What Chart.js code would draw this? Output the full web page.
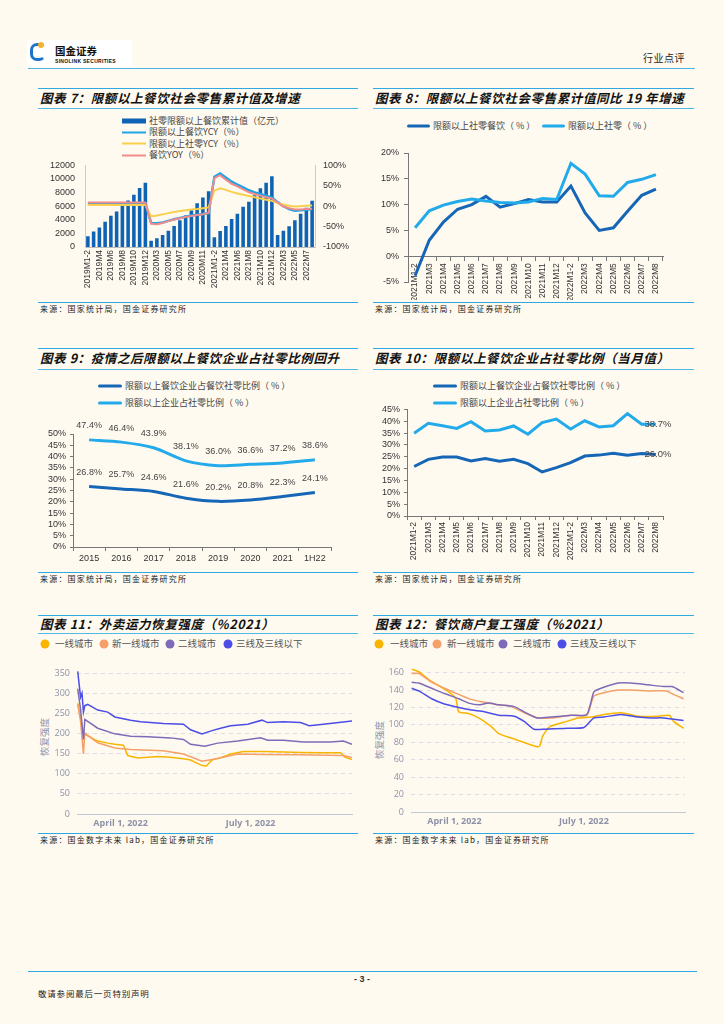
<!DOCTYPE html>
<html lang="zh-CN">
<head>
<meta charset="utf-8">
<script src="https://cdn.jsdelivr.net/npm/chart.js@4.4.1/dist/chart.umd.min.js"></script>
<style>
  html, body { margin: 0; padding: 0; }
  body { width: 724px; height: 1024px; background: #fffaf0; position: relative; overflow: hidden;
         font-family: "Noto Sans CJK SC", "Liberation Sans", sans-serif; color: #333; }
  .hl { position: absolute; height: 0; border-top: 1.5px solid #2ea9e2; }
  .hl.thin { border-top-width: 1px; border-color: #55b8e6; }
  .t { position: absolute; white-space: nowrap; line-height: 1; transform: translateY(-50%); }
  .title { font-size: 12.5px; font-weight: bold; font-style: italic; color: #111; letter-spacing: 0.6px; }
  .src { font-size: 8px; color: #222; letter-spacing: 1.2px; }
  .leg { font-size: 9px; color: #444; }
  .leg i { display: inline-block; vertical-align: middle; margin-right: 3px; }
  .cleg { font-size: 9.5px; color: #555; }
  .dot { position: absolute; width: 9px; height: 9px; border-radius: 50%; transform: translate(-50%, -50%); }
  canvas { position: absolute; }
</style>
</head>
<body>

<!-- header -->
<div style="position:absolute;left:27px;top:40px;width:105px;height:27px;background:#fff;"></div>
<div style="position:absolute;left:30px;top:43px;width:10px;height:12px;border:3px solid #1d74c9;border-radius:7px;border-right-color:transparent;"></div>
<div style="position:absolute;left:38px;top:42px;width:6px;height:6px;border-radius:50%;background:#f2b233;"></div>
<div class="t" style="left:55px;top:51px;font-size:10.5px;font-weight:bold;color:#111;">国金证券</div>
<div class="t" style="left:55px;top:61px;font-size:5px;font-weight:bold;color:#111;letter-spacing:0.3px;font-family:'Liberation Sans';">SINOLINK SECURITIES</div>
<div class="t" style="left:643px;top:58px;font-size:10px;color:#222;letter-spacing:0.5px;">行业点评</div>
<div class="hl" style="left:28px;top:68px;width:667px;border-color:#4db3e6;"></div>

<!-- row 1 -->
<div class="hl" style="left:38px;top:88px;width:320px;"></div>
<div class="hl" style="left:373px;top:88px;width:321px;"></div>
<div class="t title" style="left:40px;top:98px;">图表 7：限额以上餐饮社会零售累计值及增速</div>
<div class="t title" style="left:375px;top:98px;">图表 8：限额以上餐饮社会零售累计值同比 19 年增速</div>
<div class="hl thin" style="left:38px;top:108px;width:320px;"></div>
<div class="hl thin" style="left:373px;top:108px;width:321px;"></div>

<div class="t leg" style="left:122px;top:119.5px;"><i style="width:24px;height:5px;background:#0f63b4;"></i>社零限额以上餐饮累计值（亿元）</div>
<div class="t leg" style="left:122px;top:131px;"><i style="width:24px;height:2px;background:#1ea5e6;"></i>限额以上餐饮YCY（%）</div>
<div class="t leg" style="left:122px;top:142.7px;"><i style="width:24px;height:2px;background:#f8d04e;"></i>限额以上社零YCY（%）</div>
<div class="t leg" style="left:122px;top:154.3px;"><i style="width:24px;height:2px;background:#f08c8c;"></i>餐饮YOY（%）</div>

<div class="t leg" style="left:407px;top:125px;"><i style="width:23px;height:3px;border-radius:2px;background:#1566b6;"></i>限额以上社零餐饮（ % ）</div>
<div class="t leg" style="left:542px;top:125px;"><i style="width:23px;height:3px;border-radius:2px;background:#22aaea;"></i>限额以上社零（ % ）</div>

<canvas id="c7" width="315" height="150" style="left:40px;top:150px;width:315px;height:150px;"></canvas>
<canvas id="c8" width="320" height="160" style="left:373px;top:140px;width:320px;height:160px;"></canvas>

<div class="hl" style="left:38px;top:302px;width:320px;"></div>
<div class="hl" style="left:373px;top:302px;width:321px;"></div>
<div class="t src" style="left:40px;top:308.5px;">来源：国家统计局，国金证券研究所</div>
<div class="t src" style="left:375px;top:308.5px;">来源：国家统计局，国金证券研究所</div>

<!-- row 2 -->
<div class="hl" style="left:38px;top:348px;width:320px;"></div>
<div class="hl" style="left:373px;top:348px;width:321px;"></div>
<div class="t title" style="left:40px;top:358px;">图表 9：疫情之后限额以上餐饮企业占社零比例回升</div>
<div class="t title" style="left:375px;top:358px;">图表 10：限额以上餐饮企业占社零比例（当月值）</div>
<div class="hl thin" style="left:38px;top:369px;width:320px;"></div>
<div class="hl thin" style="left:373px;top:369px;width:321px;"></div>

<div class="t leg" style="left:98px;top:385px;"><i style="width:24px;height:3px;border-radius:2px;background:#1566b6;"></i>限额以上餐饮企业占餐饮社零比例（ % ）</div>
<div class="t leg" style="left:98px;top:402.3px;"><i style="width:24px;height:3px;border-radius:2px;background:#22aaea;"></i>限额以上企业占社零比例（ % ）</div>
<div class="t leg" style="left:433px;top:385px;"><i style="width:24px;height:3px;border-radius:2px;background:#1566b6;"></i>限额以上餐饮企业占餐饮社零比例（ % ）</div>
<div class="t leg" style="left:433px;top:402.3px;"><i style="width:24px;height:3px;border-radius:2px;background:#22aaea;"></i>限额以上企业占社零比例（ % ）</div>

<canvas id="c9" width="320" height="155" style="left:38px;top:415px;width:320px;height:155px;"></canvas>
<canvas id="c10" width="320" height="168" style="left:373px;top:400px;width:320px;height:168px;"></canvas>

<div class="hl" style="left:38px;top:572px;width:320px;"></div>
<div class="hl" style="left:373px;top:572px;width:321px;"></div>
<div class="t src" style="left:40px;top:578.5px;">来源：国家统计局，国金证券研究所</div>
<div class="t src" style="left:375px;top:578.5px;">来源：国家统计局，国金证券研究所</div>

<!-- row 3 -->
<div class="hl" style="left:38px;top:614.5px;width:320px;"></div>
<div class="hl" style="left:373px;top:614.5px;width:321px;"></div>
<div class="t title" style="left:40px;top:623.5px;">图表 11：外卖运力恢复强度（%2021）</div>
<div class="t title" style="left:375px;top:623.5px;">图表 12：餐饮商户复工强度（%2021）</div>
<div class="hl thin" style="left:38px;top:633.3px;width:320px;"></div>
<div class="hl thin" style="left:373px;top:633.3px;width:321px;"></div>

<div class="dot" style="left:45px;top:643.5px;background:#f8b500;"></div>
<div class="t cleg" style="left:55px;top:643.5px;">一线城市</div>
<div class="dot" style="left:104px;top:643.5px;background:#f4a068;"></div>
<div class="t cleg" style="left:112px;top:643.5px;">新一线城市</div>
<div class="dot" style="left:170px;top:643.5px;background:#7e6bb8;"></div>
<div class="t cleg" style="left:178px;top:643.5px;">二线城市</div>
<div class="dot" style="left:228px;top:643.5px;background:#4b4de6;"></div>
<div class="t cleg" style="left:236px;top:643.5px;">三线及三线以下</div>

<div class="dot" style="left:379px;top:643.5px;background:#f8b500;"></div>
<div class="t cleg" style="left:390px;top:643.5px;">一线城市</div>
<div class="dot" style="left:437px;top:643.5px;background:#f4a068;"></div>
<div class="t cleg" style="left:447px;top:643.5px;">新一线城市</div>
<div class="dot" style="left:503px;top:643.5px;background:#7e6bb8;"></div>
<div class="t cleg" style="left:513px;top:643.5px;">二线城市</div>
<div class="dot" style="left:562px;top:643.5px;background:#4b4de6;"></div>
<div class="t cleg" style="left:570px;top:643.5px;">三线及三线以下</div>

<div class="t" style="left:45px;top:737px;font-size:9.5px;color:#8d92a8;transform:translate(-50%,-50%) rotate(-90deg);">恢复强度</div>
<div class="t" style="left:380px;top:740px;font-size:9.5px;color:#8d92a8;transform:translate(-50%,-50%) rotate(-90deg);">恢复强度</div>

<canvas id="c11" width="320" height="175" style="left:38px;top:655px;width:320px;height:175px;"></canvas>
<canvas id="c12" width="320" height="175" style="left:373px;top:655px;width:320px;height:175px;"></canvas>

<div class="hl" style="left:38px;top:833.3px;width:320px;"></div>
<div class="hl" style="left:373px;top:833.3px;width:321px;"></div>
<div class="t src" style="left:40px;top:840px;">来源：国金数字未来 lab，国金证券研究所</div>
<div class="t src" style="left:375px;top:840px;">来源：国金数字未来 lab，国金证券研究所</div>

<!-- footer -->
<div class="hl" style="left:28px;top:971px;width:669px;"></div>
<div class="t" style="left:362px;top:979px;font-size:9px;font-weight:bold;transform:translate(-50%,-50%);font-family:'Liberation Sans';">- 3 -</div>
<div class="t" style="left:38px;top:993px;font-size:8.5px;color:#222;letter-spacing:0.8px;">敬请参阅最后一页特别声明</div>

<script>
// ---- chart 7 ----
const c7Labels = [
  '2019M1-2','2019M3','2019M4','2019M5','2019M6','2019M7','2019M8','2019M9','2019M10','2019M11','2019M12',
  '2020M1-2','2020M3','2020M4','2020M5','2020M6','2020M7','2020M8','2020M9','2020M10','2020M11','2020M12',
  '2021M1-2','2021M3','2021M4','2021M5','2021M6','2021M7','2021M8','2021M9','2021M10','2021M11','2021M12',
  '2022M1-2','2022M3','2022M4','2022M5','2022M6','2022M7','2022M8'
];
const c7Sales = [
  1570, 2270, 2870, 3700, 4580, 5230, 6060, 6850, 7690, 8660, 9440,
  930, 1300, 1760, 2400, 3100, 3930, 4630, 5420, 6440, 7270, 8200,
  1430, 2360, 3100, 4120, 4900, 5930, 6670, 7600, 8650, 9440, 10400,
  1760, 2400, 3050, 3930, 4900, 5790, 6800
];
const c7CateringYcy = [
  6, 6, 6, 6, 6, 6, 6, 6, 7, 7, 7,
  -41, -42, -40, -36, -32, -29, -26, -23, -21, -19, -17,
  72, 80, 70, 60, 53, 46, 39, 34, 30, 26, 21,
  10, 0, -7, -11, -10, -9, -7
];
const c7RetailYcy = [
  3, 3, 3, 3, 3, 3, 3, 3, 3, 3, 3,
  -25, -23, -20, -17, -14, -12, -10, -8, -7, -5, -3,
  38, 44, 40, 35, 31, 28, 25, 22, 19, 16, 13,
  8, 4, 1, -1, 0, 1, 2
];
const c7CateringYoy = [
  9, 9, 9, 9, 9, 9, 9, 9, 9, 9, 9,
  -43, -44, -41, -36.5, -32.8, -29.6, -26.6, -23.9, -21.4, -19.6, -16.6,
  69, 76, 65, 55, 48.6, 41, 34, 30, 26, 22, 18.6,
  9, -1, -5, -8, -8, -7, -6
];

// ---- chart 8 ----
const monthLabels = [
  '2021M1-2','2021M3','2021M4','2021M5','2021M6','2021M7','2021M8','2021M9','2021M10','2021M11','2021M12',
  '2022M1-2','2022M3','2022M4','2022M5','2022M6','2022M7','2022M8'
];
const c8Catering = [-3.8, 3.1, 6.6, 9.1, 10.0, 11.6, 9.5, 10.2, 11.0, 10.5, 10.5, 13.6, 8.4, 5.0, 5.5, 8.7, 11.8, 13.0];
const c8Retail = [5.5, 8.8, 9.9, 10.6, 11.1, 10.7, 10.4, 10.3, 10.5, 11.2, 11.0, 18.0, 15.9, 11.7, 11.6, 14.3, 14.9, 15.8];

// ---- chart 9 ----
const c9Years = ['2015', '2016', '2017', '2018', '2019', '2020', '2021', '1H22'];
const c9Catering = [26.8, 25.7, 24.6, 21.6, 20.2, 20.8, 22.3, 24.1];
const c9Retail = [47.4, 46.4, 43.9, 38.1, 36.0, 36.6, 37.2, 38.6];

// ---- chart 10 ----
const c10Catering = [20.9, 23.9, 24.9, 24.9, 23.2, 24.3, 23.1, 23.9, 22.1, 18.6, 20.4, 22.5, 25.3, 25.7, 26.5, 25.6, 26.4, 26.0];
const c10Retail = [34.9, 39.1, 38.1, 37.0, 39.8, 35.9, 36.3, 38.0, 34.5, 39.4, 40.9, 36.7, 40.2, 37.6, 38.1, 43.2, 38.7, 38.7];

// ---- charts 11 / 12 (x = day of year 2022) ----
const dateTicks = [91, 182];
const dateTickLabels = ['April 1, 2022', 'July 1, 2022'];
const cityNames = ['一线城市', '新一线城市', '二线城市', '三线及三线以下'];

const c11Tier1Days = [61, 63, 65, 67, 75, 82, 87, 93, 96, 103, 110, 117, 126, 135, 140, 147, 150, 151, 155, 161, 168, 177, 191, 205, 217, 233, 245, 248, 253];
const c11Tier1Vals = [275, 240, 200, 196, 181, 176, 173, 171, 145, 139, 141, 143, 141, 137, 134, 122, 119, 119, 134, 140, 149, 155, 155, 154, 153, 152, 152, 141, 135];
const c11NewTier1Days = [61, 63, 65, 66, 68, 75, 87, 98, 121, 135, 148, 159, 173, 191, 215, 247, 253];
const c11NewTier1Vals = [273, 230, 149, 201, 195, 177, 164, 160, 157, 149, 131, 138, 149, 148, 147, 145, 140];
const c11Tier2Days = [61, 63, 65, 66, 68, 75, 87, 98, 110, 126, 135, 140, 150, 159, 173, 189, 194, 205, 219, 238, 247, 253];
const c11Tier2Vals = [311, 260, 185, 235, 230, 213, 199, 193, 192, 189, 185, 173, 168, 176, 181, 189, 183, 183, 179, 179, 181, 173];
const c11Tier3Days = [61, 63, 64, 65, 66, 68, 75, 82, 87, 98, 105, 121, 135, 140, 148, 155, 161, 168, 180, 190, 194, 205, 217, 223, 233, 253];
const c11Tier3Vals = [354, 290, 300, 253, 269, 272, 258, 253, 241, 233, 229, 225, 223, 209, 199, 207, 213, 219, 223, 233, 227, 229, 227, 219, 223, 231];

const c12Tier1Days = [61, 66, 73, 79, 87, 92, 94, 101, 108, 117, 122, 131, 138, 145, 149, 151, 153, 158, 168, 178, 187, 196, 208, 220, 234, 242, 245, 252];
const c12Tier1Vals = [164, 161, 152, 146, 138, 130, 115, 113, 108, 98, 90, 85, 81, 77, 75, 76, 87, 98, 103, 108, 109, 112, 114, 110, 110, 111, 104, 96];
const c12NewTier1Days = [61, 66, 75, 84, 94, 103, 112, 122, 131, 140, 150, 159, 173, 184, 189, 196, 206, 215, 229, 240, 245, 252];
const c12NewTier1Vals = [159, 159, 149, 142, 135, 129, 126, 123, 121, 114, 108, 108, 111, 111, 133, 137, 140, 140, 139, 139, 135, 130];
const c12Tier2Days = [61, 66, 75, 84, 94, 101, 108, 115, 122, 133, 140, 149, 159, 173, 184, 189, 194, 206, 215, 227, 238, 244, 252];
const c12Tier2Vals = [149, 148, 142, 136, 130, 125, 123, 125, 123, 121, 115, 108, 109, 111, 112, 138, 142, 148, 148, 146, 144, 144, 137];
const c12Tier3Days = [61, 66, 75, 84, 94, 103, 112, 122, 133, 140, 147, 154, 168, 182, 189, 196, 208, 220, 229, 238, 248, 252];
const c12Tier3Vals = [142, 139, 130, 124, 120, 117, 115, 111, 110, 104, 95, 95, 96, 97, 108, 109, 112, 109, 108, 108, 106, 105];

const cityColors = ['#f8b500', '#f4a068', '#7e6bb8', '#4b4de6'];

Chart.defaults.font.family = '"Liberation Sans", "Noto Sans CJK SC", sans-serif';
Chart.defaults.font.size = 9;
Chart.defaults.color = '#333';
Chart.defaults.animation = false;
Chart.defaults.plugins.legend.display = false;
Chart.defaults.plugins.tooltip.enabled = false;

const pct = v => v + '%';
const plain = v => String(v);
const zip = (xs, ys) => xs.map((x, i) => ({ x: x, y: ys[i] }));

// labels above points (chart 9)
const pointLabels = {
  id: 'pointLabels',
  afterDatasetsDraw(chart, args, opts) {
    if (!opts.offset) return;
    const ctx = chart.ctx;
    ctx.save();
    ctx.font = '9px "Liberation Sans", sans-serif';
    ctx.fillStyle = '#444';
    ctx.textAlign = 'center';
    ctx.textBaseline = 'middle';
    chart.data.datasets.forEach((ds, i) => {
      chart.getDatasetMeta(i).data.forEach((pt, j) => {
        ctx.fillText(ds.data[j].toFixed(1) + '%', pt.x, pt.y - opts.offset);
      });
    });
    ctx.restore();
  }
};

// label on the last point (chart 10)
const lastLabels = {
  id: 'lastLabels',
  afterDatasetsDraw(chart, args, opts) {
    if (!opts.show) return;
    const ctx = chart.ctx;
    ctx.save();
    ctx.font = '9.5px "Liberation Sans", sans-serif';
    ctx.fillStyle = '#444';
    ctx.textAlign = 'center';
    ctx.textBaseline = 'middle';
    chart.data.datasets.forEach((ds, i) => {
      const pts = chart.getDatasetMeta(i).data;
      const pt = pts[pts.length - 1];
      ctx.fillText(ds.data[pts.length - 1].toFixed(1) + '%', pt.x + 2, pt.y);
    });
    ctx.restore();
  }
};

// chart 7
new Chart(document.getElementById('c7'), {
  type: 'bar',
  data: {
    labels: c7Labels,
    datasets: [
      { type: 'line', data: c7CateringYoy, yAxisID: 'y1', borderColor: '#f08c8c', borderWidth: 2, pointRadius: 0, order: 1 },
      { type: 'line', data: c7RetailYcy, yAxisID: 'y1', borderColor: '#f8d04e', borderWidth: 2, pointRadius: 0, order: 2 },
      { type: 'line', data: c7CateringYcy, yAxisID: 'y1', borderColor: '#1ea5e6', borderWidth: 2.5, pointRadius: 0, order: 3 },
      { type: 'bar', data: c7Sales, yAxisID: 'y', backgroundColor: '#0f63b4', barPercentage: 0.62, categoryPercentage: 1, order: 4 }
    ]
  },
  options: {
    responsive: false,
    layout: { padding: { top: 11 } },
    scales: {
      x: {
        grid: { display: false, drawTicks: false },
        border: { color: '#bbb' },
        ticks: { autoSkip: false, minRotation: 90, maxRotation: 90, padding: 3, font: { size: 8.5 },
                 callback: (v, i) => (i % 2 === 0 ? c7Labels[i] : '') },
        afterFit: s => { s.height = 53; }
      },
      y: {
        position: 'left', min: 0, max: 12000,
        ticks: { stepSize: 2000, padding: 10, autoSkip: false, callback: plain },
        grid: { display: false, drawTicks: false },
        border: { color: '#ccc' },
        afterFit: s => { s.width = 45; }
      },
      y1: {
        position: 'right', min: -100, max: 100,
        ticks: { stepSize: 50, padding: 8, autoSkip: false, callback: pct },
        grid: { display: false, drawTicks: false },
        border: { color: '#ccc' },
        afterFit: s => { s.width = 40; }
      }
    }
  }
});

// chart 8
new Chart(document.getElementById('c8'), {
  type: 'line',
  data: {
    labels: monthLabels,
    datasets: [
      { data: c8Retail, borderColor: '#22aaea', borderWidth: 3, pointRadius: 0 },
      { data: c8Catering, borderColor: '#1566b6', borderWidth: 3, pointRadius: 0 }
    ]
  },
  options: {
    responsive: false,
    layout: { padding: { top: 13, right: 30, bottom: 18 } },
    scales: {
      x: {
        position: { y: 0 }, offset: true,
        grid: { display: true, drawOnChartArea: false, offset: true, tickLength: 4, color: '#777' },
        border: { color: '#777' },
        ticks: { autoSkip: false, minRotation: 90, maxRotation: 90, padding: 3, font: { size: 8.5 } }
      },
      y: {
        min: -5, max: 20,
        ticks: { stepSize: 5, padding: 5, autoSkip: false, callback: pct },
        grid: { display: true, drawOnChartArea: false, tickLength: 4, color: '#777' },
        border: { color: '#777' },
        afterFit: s => { s.width = 35; }
      }
    }
  }
});

// chart 9
new Chart(document.getElementById('c9'), {
  type: 'line',
  data: {
    labels: c9Years,
    datasets: [
      { data: c9Retail, borderColor: '#22aaea', borderWidth: 3, pointRadius: 0, tension: 0.3 },
      { data: c9Catering, borderColor: '#1566b6', borderWidth: 3, pointRadius: 0, tension: 0.3 }
    ]
  },
  plugins: [pointLabels],
  options: {
    responsive: false,
    layout: { padding: { top: 19, right: 27 } },
    plugins: { pointLabels: { offset: 14 } },
    scales: {
      x: {
        offset: true,
        grid: { display: true, drawOnChartArea: false, offset: true, tickLength: 4, color: '#777' },
        border: { color: '#777' },
        ticks: { padding: 2 },
        afterFit: s => { s.height = 23; }
      },
      y: {
        min: 0, max: 50,
        ticks: { stepSize: 5, padding: 4, autoSkip: false, callback: pct },
        grid: { display: true, drawOnChartArea: false, tickLength: 3, color: '#777' },
        border: { color: '#777' },
        afterFit: s => { s.width = 35; }
      }
    }
  }
});

// chart 10
new Chart(document.getElementById('c10'), {
  type: 'line',
  data: {
    labels: monthLabels,
    datasets: [
      { data: c10Retail, borderColor: '#22aaea', borderWidth: 3, pointRadius: 0 },
      { data: c10Catering, borderColor: '#1566b6', borderWidth: 3, pointRadius: 0 }
    ]
  },
  plugins: [lastLabels],
  options: {
    responsive: false,
    layout: { padding: { top: 7, right: 30 } },
    plugins: { lastLabels: { show: true } },
    scales: {
      x: {
        offset: true,
        grid: { display: true, drawOnChartArea: false, offset: true, tickLength: 4, color: '#777' },
        border: { color: '#777' },
        ticks: { autoSkip: false, minRotation: 90, maxRotation: 90, padding: 2, font: { size: 8.5 } },
        afterFit: s => { s.height = 52; }
      },
      y: {
        min: 0, max: 45,
        ticks: { stepSize: 5, padding: 4, autoSkip: false, callback: pct },
        grid: { display: true, drawOnChartArea: false, tickLength: 3, color: '#777' },
        border: { color: '#777' },
        afterFit: s => { s.width = 34; }
      }
    }
  }
});

// charts 11 / 12
function cityChart(id, series, yMax, yStep, pad, yWidth, xHeight, tension) {
  new Chart(document.getElementById(id), {
    type: 'line',
    data: {
      datasets: series.map((s, i) => ({
        label: cityNames[i], data: s, borderColor: cityColors[i], borderWidth: 1.5,
        pointRadius: 0, tension: tension
      })).reverse()
    },
    options: {
      responsive: false,
      layout: { padding: pad },
      scales: {
        x: {
          type: 'linear', min: 60.5, max: 253,
          afterBuildTicks: s => { s.ticks = dateTicks.map(v => ({ value: v })); },
          ticks: { padding: 4, autoSkip: false, color: '#8d92a8', font: { size: 9, weight: 'bold', family: '"Open Sans", sans-serif' },
                   callback: v => dateTickLabels[dateTicks.indexOf(v)] },
          grid: { display: false, drawTicks: false },
          border: { color: '#c5c8d4' },
          afterFit: s => { s.height = xHeight; }
        },
        y: {
          min: 0, max: yMax,
          afterBuildTicks: s => {
            const t = [];
            for (let v = 0; v <= yMax; v += yStep) t.push({ value: v });
            s.ticks = t;
          },
          ticks: { padding: 7, autoSkip: false, color: '#8d92a8', font: { size: 9, family: '"Open Sans", sans-serif' } },
          grid: { drawTicks: false, color: c => (c.tick && c.tick.value === 0 ? 'rgba(0,0,0,0)' : '#dedfe6') },
          border: { display: false, dash: [4, 4] },
          afterFit: s => { s.width = yWidth; }
        }
      }
    }
  });
}

cityChart('c11', [
  zip(c11Tier1Days, c11Tier1Vals), zip(c11NewTier1Days, c11NewTier1Vals),
  zip(c11Tier2Days, c11Tier2Vals), zip(c11Tier3Days, c11Tier3Vals)
], 364, 50, { top: 6, right: 6 }, 39, 16, 0);

cityChart('c12', [
  zip(c12Tier1Days, c12Tier1Vals), zip(c12NewTier1Days, c12NewTier1Vals),
  zip(c12Tier2Days, c12Tier2Vals), zip(c12Tier3Days, c12Tier3Vals)
], 166, 20, { top: 7, right: 8 }, 38, 18, 0.2);
</script>
</body>
</html>
